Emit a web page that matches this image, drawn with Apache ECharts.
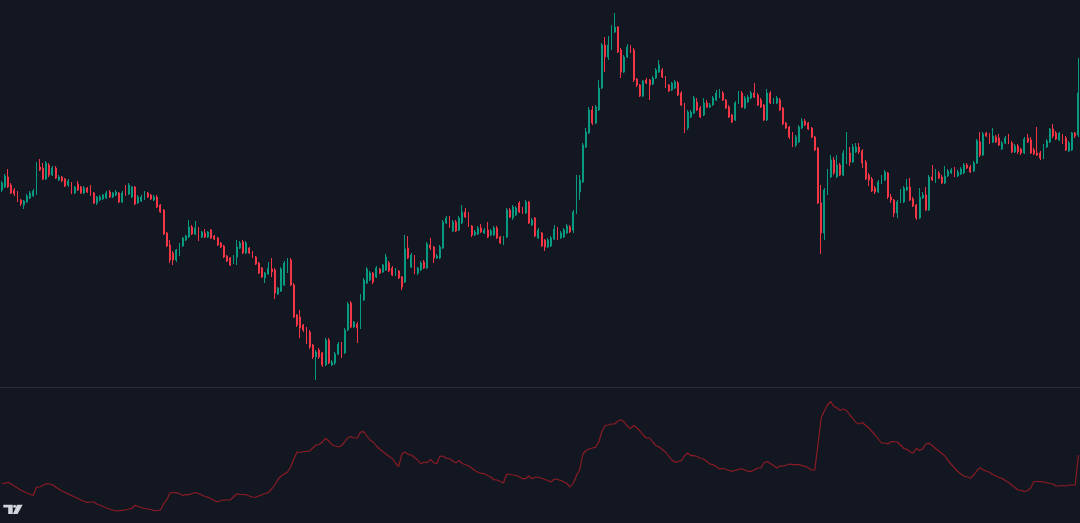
<!DOCTYPE html>
<html>
<head>
<meta charset="utf-8">
<script src="https://cdn.jsdelivr.net/npm/echarts@6/dist/echarts.min.js"></script>
<style>
html,body{margin:0;padding:0;background:#131722;}
#chart{width:1080px;height:523px;}
</style>
</head>
<body>
<div id="chart"></div>
<script>
// Each candle: [open, close, low, high]
const candles = [
[210,217,208,219],[213,224,212,226],[223,213,212,231],[215,207,206,217],[210,206,204,212],
[207,199,198,209],[200,196,194,201],[195,199,191,200],[198,204,197,206],[202,207,201,209],
[204,209,203,211],[206,237,205,238],[233,230,229,241],[232,221,220,237],[221,237,220,239],
[235,225,223,237],[225,232,224,234],[232,222,221,234],[220,223,219,225],[223,219,218,224],
[221,214,213,222],[215,219,213,221],[217,207,206,218],[207,213,206,214],[216,210,209,219],
[213,207,206,214],[207,212,206,214],[212,208,207,213],[213,205,204,215],[207,197,196,208],
[197,203,195,204],[200,203,199,205],[201,205,200,206],[202,207,201,209],[208,203,202,210],
[203,207,202,208],[205,208,204,210],[207,198,197,208],[198,207,197,209],[212,205,204,215],
[206,215,205,217],[203,213,202,214],[213,196,195,214],[197,203,196,205],[199,203,198,205],
[201,207,200,209],[207,203,202,208],[205,201,200,206],[200,203,199,205],[203,193,192,205],
[195,188,187,196],[190,166,165,191],[167,154,153,168],[155,140,137,160],[147,140,135,149],
[140,150,138,151],[145,155,144,157],[154,162,153,163],[160,164,159,165],[163,173,162,180],
[173,166,165,175],[166,172,165,179],[172,163,159,173],[163,168,162,169],[167,163,162,171],
[163,168,162,169],[170,162,161,171],[164,161,160,165],[162,155,154,163],[157,153,152,158],
[154,143,142,155],[144,139,138,145],[142,135,134,143],[137,144,136,145],[143,153,135,160],
[152,157,151,159],[158,147,146,160],[147,157,146,159],[152,147,146,153],[148,143,142,149],
[143,136,135,144],[137,127,126,138],[132,123,122,133],[122,127,117,128],[126,132,125,138],
[131,128,123,142],[130,107,101,132],[106,112,105,113],[109,131,108,133],[115,137,114,139],
[128,140,127,142],[140,115,114,142],[115,83,82,117],[85,75,73,86],[83,72,62,90],
[75,70,68,76],[72,58,56,73],[68,53,51,70],[55,43,41,56],[43,48,20,50],
[50,43,41,52],[47,35,33,48],[35,60,34,62],[60,37,36,62],[35,38,34,40],
[37,46,35,48],[46,56,45,58],[57,47,42,58],[47,70,46,72],[70,96,69,98],
[97,73,72,99],[73,78,72,79],[76,72,57,78],[72,103,71,106],[100,120,99,122],
[117,131,116,133],[120,127,119,129],[127,118,116,128],[123,132,122,134],[131,127,126,132],
[128,135,127,136],[130,143,129,146],[137,129,128,139],[132,125,124,134],[125,130,124,132],
[129,122,121,130],[123,113,110,124],[118,151,117,165],[152,142,141,164],[133,145,132,147],
[143,127,126,145],[127,132,125,133],[130,137,129,139],[138,132,131,140],[132,156,131,158],
[155,152,150,162],[153,142,137,154],[142,144,141,146],[142,153,141,155],[152,178,151,180],
[177,182,176,184],[182,173,172,184],[169,178,168,180],[178,169,168,180],[170,182,169,184],
[177,188,176,195],[188,183,182,192],[186,174,173,188],[174,165,163,175],[165,168,164,170],
[166,172,165,174],[172,168,167,176],[167,170,166,172],[170,163,162,178],[165,169,164,171],
[165,172,164,174],[172,162,161,174],[163,157,156,164],[157,163,155,164],[163,190,162,192],
[190,183,182,192],[182,193,180,195],[185,192,184,194],[197,188,187,199],[192,187,186,193],
[187,198,186,200],[198,177,176,199],[175,180,174,182],[182,164,163,183],[162,170,161,172],
[167,154,153,168],[160,153,149,161],[153,160,152,162],[154,162,153,164],[161,171,160,175],
[172,161,160,173],[162,167,161,169],[163,170,162,172],[167,174,166,176],[173,168,167,175],
[170,188,167,190],[187,210,186,225],[208,220,200,225],[218,255,217,257],[253,268,252,272],
[267,290,266,293],[290,277,275,294],[277,293,276,295],[290,312,289,320],[312,355,311,357],
[355,343,328,363],[343,355,340,364],[355,373,350,375],[368,373,367,387],[373,348,347,374],
[350,328,322,352],[328,343,327,345],[343,353,342,356],[352,348,347,355],[350,320,318,352],
[321,315,313,322],[315,304,303,316],[304,319,303,320],[320,317,316,322],[320,315,300,321],
[316,322,315,324],[322,330,321,332],[328,335,327,340],[330,323,322,332],[323,313,312,324],
[315,309,308,316],[310,317,309,318],[312,318,311,320],[317,305,304,319],[307,295,294,309],
[296,272,267,297],[272,288,270,290],[283,288,282,290],[287,302,286,304],[298,290,289,302],
[292,283,282,294],[285,297,284,302],[297,293,292,300],[293,295,292,297],[295,302,294,304],
[300,307,299,310],[303,308,302,311],[307,300,299,309],[300,292,291,301],[293,283,282,295],
[285,278,277,286],[280,297,279,299],[297,307,296,309],[307,293,292,309],[292,302,291,304],
[298,303,297,305],[302,307,301,309],[307,303,302,317],[305,295,294,307],[300,293,292,302],
[295,280,279,296],[280,307,279,311],[307,297,296,309],[297,300,296,302],[297,302,296,304],
[300,290,289,302],[292,276,275,293],[277,272,271,278],[273,263,261,274],[267,255,253,268],
[255,263,253,265],[258,273,257,275],[272,279,271,282],[279,275,274,281],[277,271,270,278],
[272,263,262,273],[263,250,249,264],[252,197,196,253],[197,167,146,215],[167,210,160,212],
[210,223,205,231],[223,240,222,245],[240,227,225,243],[223,235,222,245],[235,225,224,237],
[225,247,224,250],[238,247,236,268],[247,238,234,253],[238,253,237,256],[248,253,247,257],
[253,248,246,257],[249,237,232,251],[238,221,220,240],[225,220,214,227],[221,209,208,223],
[212,208,206,214],[208,218,207,220],[217,223,216,225],[220,228,219,230],[227,203,201,228],
[203,200,197,206],[200,187,183,201],[187,198,182,200],[198,207,197,211],[198,212,197,214],
[210,213,209,221],[213,200,199,222],[201,194,193,203],[195,182,180,196],[182,203,181,212],
[202,205,201,208],[205,190,189,213],[190,223,189,225],[223,220,219,235],[218,226,217,231],
[227,222,221,229],[223,217,216,225],[217,224,216,234],[224,229,223,231],[227,230,226,232],
[231,224,223,233],[224,228,223,230],[226,231,225,233],[227,235,226,237],[235,232,231,237],
[233,228,227,235],[229,237,228,239],[237,259,236,261],[258,245,243,268],[245,266,244,268],
[267,264,263,268],[265,257,256,267],[258,264,257,272],[263,258,257,265],[262,255,254,266],
[251,257,250,259],[257,262,256,264],[262,257,256,266],[257,248,247,259],[248,254,247,256],
[254,248,246,256],[251,247,245,252],[247,261,246,263],[262,258,257,266],[260,247,246,263],
[250,246,245,252],[247,245,244,273],[247,242,240,249],[242,254,241,256],[253,259,252,261],
[258,271,257,272],[271,264,262,276],[267,261,260,269],[260,267,259,268],[263,257,256,266],
[262,250,249,264],[249,257,248,259],[250,267,249,268],[267,264,262,268],[265,307,263,342]
];

// Indicator line (one value per bar)
const atr = [
40,39.5,40.7,39.3,37,35,33,31.5,30,28.5,
27.7,35.7,36,37.5,39.3,39,38.3,36,34,32,
30.5,29,27.5,26,24.5,23,21.5,20.7,21,21,
19,17.7,16.5,15,14,13,12,12.3,12.7,13,
14,14.7,17.7,16.5,15.5,14.5,14,13.5,12.3,12.5,
13,19,23.3,29.7,30.7,30.2,29.5,27.5,28.5,28.3,
29.5,30.5,29.5,28,26.5,25.7,24,22.5,21,22.5,
23,23,23,26,29,28.7,28.5,28.3,27,26,
25.7,27,28.3,29.5,30.5,34,38,43.5,47,49,
51,56,64,71,70.5,71.5,71.7,72,75,78,
78.5,81,84.7,82,78.3,77,76,77.5,81,85.5,
86.3,85,85,91,91.3,87,83,81,77,74,
71.5,69,66.5,64.5,60,56.3,69,71,68.7,68,
65.5,63,59,61,60.3,63.7,60.3,59.3,66.7,67,
64.7,64.5,62,60.3,62.5,59.5,58.5,57,55,52.5,
50.5,49.7,49.3,47.5,46,43.3,43,41.5,40,49,
48.5,48,47.7,46,44.3,44.3,47,44.3,46,45.5,
45,43.5,42.5,41,44,43.5,42.7,41,39.5,36,
40,47.5,53.5,69,72.5,74,75,75.7,81,91.5,
97.5,98,99,99,102,103.3,101,97,94.3,97.7,
95,92,88,85,85,81,77.3,76,73.5,71,
67,63,60.7,61.5,62.3,67.3,70,67.3,67.3,66.5,
64.5,64,61.5,59,58.3,56.5,54,54.7,53.5,52.5,
51.7,52.7,53.5,54.3,53,51.7,51.7,53,55,55,
60,61.5,59.5,57.5,55,57,56.7,58,59,58.3,
58.3,58.3,57.5,56.7,55,53,53,78,105,112,
118,121.5,116.7,115,112.5,114,112.5,108.3,104.5,100.5,
99,100.5,97.7,95,91.5,88,84,80,80,79,
81.3,81.5,81,78,74.5,73.7,71,70.2,74.7,72.5,
74.3,79,79.7,77.5,74.5,72,69.5,67,62.2,58.5,
55,51.5,49,47,46,44.7,48,52,55.3,53.3,
51.7,50.7,48.5,47,45.5,44.5,42.5,40.5,38,35.5,
33,32.7,31.3,32.5,35,41.5,41.5,41.3,41,40.3,
39.5,39,37,37,37.5,37,38,38,38,68
];

const bars = candles.map((_, i) => String(i + 1));

const chart = echarts.init(document.getElementById('chart'), null, {renderer: 'canvas'});
chart.setOption({
  backgroundColor: '#131722',
  animation: false,
  grid: [
    {left: 0, right: 0, top: 0, bottom: 136},
    {left: 0, right: 0, top: 388, bottom: 0}
  ],
  xAxis: [
    {type: 'category', data: bars, gridIndex: 0, boundaryGap: true,
     axisLine: {show: true, lineStyle: {color: '#2a2e39', width: 1}},
     axisTick: {show: false}, axisLabel: {show: false}, splitLine: {show: false}},
    {type: 'category', data: bars, gridIndex: 1, boundaryGap: true,
     axisLine: {show: false}, axisTick: {show: false}, axisLabel: {show: false}, splitLine: {show: false}}
  ],
  yAxis: [
    {type: 'value', gridIndex: 0, min: 13, max: 400, show: false, splitLine: {show: false}},
    {type: 'value', gridIndex: 1, min: 0, max: 135, show: false, splitLine: {show: false}}
  ],
  series: [
    {type: 'candlestick', xAxisIndex: 0, yAxisIndex: 0, data: candles,
     barWidth: 1.4,
     itemStyle: {color: '#089981', color0: '#f23645', borderColor: '#089981', borderColor0: '#f23645', borderWidth: 1}},
    {type: 'line', xAxisIndex: 1, yAxisIndex: 1, data: atr, showSymbol: false, symbol: 'none',
     lineStyle: {color: '#8b1c24', width: 1.2}}
  ],
  graphic: [
    {type: 'polygon', shape: {points: [[3.3,504.7],[12.7,504.7],[12.7,514],[8.2,514],[8.2,507.6],[3.3,507.6]]}, style: {fill: '#d1d4dc'}},
    {type: 'circle', shape: {cx: 14.6, cy: 506.3, r: 1.5}, style: {fill: '#d1d4dc'}},
    {type: 'polygon', shape: {points: [[17,504.7],[22.7,504.7],[17.6,514],[12.9,514]]}, style: {fill: '#d1d4dc'}}
  ]
});
</script>
</body>
</html>
